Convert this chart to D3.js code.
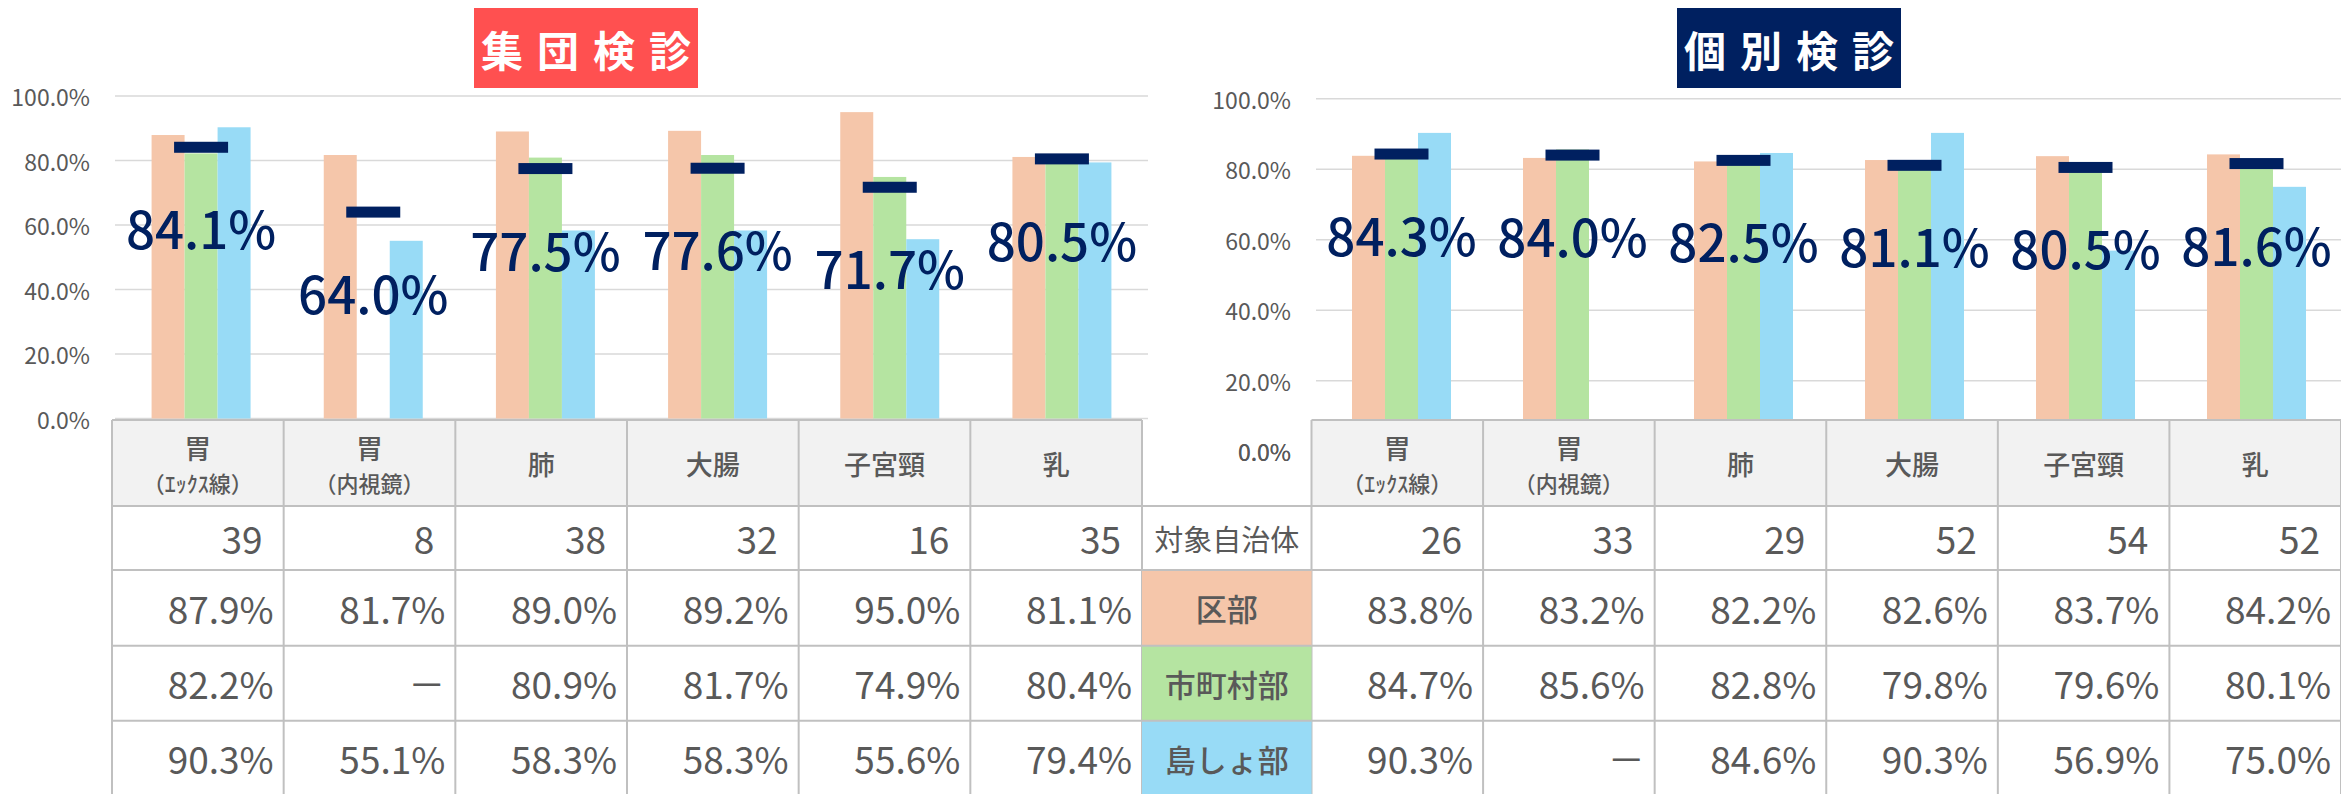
<!DOCTYPE html>
<html lang="ja">
<head>
<meta charset="UTF-8" />
<title>集団検診・個別検診 受診率</title>
<style>
  html, body { margin:0; padding:0; background:#fff; }
  svg { display:block; font-family:"Noto Sans CJK JP", "Noto Sans", sans-serif; }
</style>
</head>
<body>
<svg id="chart" width="2341" height="794"></svg>
<script src="https://d3js.org/d3.v7.min.js"></script>
<script>
// ---- data ----
const catMain = ["胃", "胃", "肺", "大腸", "子宮頸", "乳"];
const catSub  = ["（ｴｯｸｽ線）", "（内視鏡）", "", "", "", ""];
const seriesNames = ["区部", "市町村部", "島しょ部"];
const countLabel = "対象自治体";
const yTicks = [0, 20, 40, 60, 80, 100];

// 集団検診
const groupCounts    = [39, 8, 38, 32, 16, 35];
const groupKubu      = [87.9, 81.7, 89.0, 89.2, 95.0, 81.1];
const groupShichoson = [82.2, null, 80.9, 81.7, 74.9, 80.4];
const groupTosho     = [90.3, 55.1, 58.3, 58.3, 55.6, 79.4];
const groupAvg       = [84.1, 64.0, 77.5, 77.6, 71.7, 80.5];

// 個別検診
const indivCounts    = [26, 33, 29, 52, 54, 52];
const indivKubu      = [83.8, 83.2, 82.2, 82.6, 83.7, 84.2];
const indivShichoson = [84.7, 85.6, 82.8, 79.8, 79.6, 80.1];
const indivTosho     = [90.3, null, 84.6, 90.3, 56.9, 75.0];
const indivAvg       = [84.3, 84.0, 82.5, 81.1, 80.5, 81.6];

// ---- styles ----
const colors = { "区部":"#F5C6AA", "市町村部":"#B5E4A1", "島しょ部":"#98DBF6" };
const navy = "#002060";
const textGrey = "#595959";
const lineGrey = "#C0C0C0";
const barW = 33, markW = 54, markH = 11;

const svg = d3.select("#chart");
const chartLayer = svg.append("g");
const tableLayer = svg.append("g");

function drawPanel(p) {
  const g = chartLayer.append("g");
  const y = d3.scaleLinear().domain([0, 100]).range(p.yRange);
  const x0 = d3.scaleBand().domain(d3.range(catMain.length)).range(p.xRange);
  const groupW = barW * seriesNames.length;
  const x1 = d3.scaleBand().domain(seriesNames)
    .range([(x0.bandwidth() - groupW) / 2, (x0.bandwidth() + groupW) / 2]);

  // gridlines + tick labels
  g.selectAll("line.grid").data(yTicks).join("line")
    .attr("x1", p.xRange[0]).attr("x2", p.xRange[1])
    .attr("y1", d => y(d)).attr("y2", d => y(d))
    .attr("stroke", "#D9D9D9").attr("stroke-width", 1.6);
  g.selectAll("text.tick").data(yTicks).join("text")
    .attr("x", p.tickX).attr("y", d => y(d))
    .attr("text-anchor", "end").attr("dominant-baseline", "central")
    .attr("font-size", 23).attr("fill", textGrey)
    .text(d => d.toFixed(1) + "%");

  // bars
  const rows = [];
  p.series.forEach((vals, si) => vals.forEach((v, i) => {
    if (v != null) rows.push({ s: seriesNames[si], i, v });
  }));
  g.selectAll("rect.bar").data(rows).join("rect")
    .attr("x", d => x0(d.i) + x1(d.s))
    .attr("width", x1.bandwidth())
    .attr("y", d => y(d.v))
    .attr("height", d => y(0) - y(d.v))
    .attr("fill", d => colors[d.s]);

  // average markers + labels
  const cx = i => x0(i) + x0.bandwidth() / 2;
  g.selectAll("rect.mark").data(p.avg).join("rect")
    .attr("x", (d, i) => cx(i) - markW / 2)
    .attr("y", d => y(d) - markH / 2)
    .attr("width", markW).attr("height", markH)
    .attr("fill", navy);
  g.selectAll("text.avg").data(p.avg).join("text")
    .attr("x", (d, i) => cx(i))
    .attr("y", d => y(d) + 102)
    .attr("text-anchor", "middle")
    .attr("font-size", 51).attr("font-weight", 500)
    .attr("fill", navy)
    .text(d => d.toFixed(1) + "%");

  // title box
  const t = svg.append("g");
  t.append("rect").attr("x", p.titleX).attr("y", 8).attr("width", 224).attr("height", 80)
    .attr("fill", p.titleColor);
  t.append("text").attr("x", p.titleX + 112 + 7).attr("y", 48)
    .attr("text-anchor", "middle").attr("dominant-baseline", "central")
    .attr("font-size", 42).attr("font-weight", 700).attr("letter-spacing", 14)
    .attr("fill", "#fff").text(p.title);
}

drawPanel({
  title: "集団検診", titleColor: "#FF5050", titleX: 474,
  yRange: [418.5, 96], xRange: [115, 1148], tickX: 90,
  series: [groupKubu, groupShichoson, groupTosho], avg: groupAvg
});
drawPanel({
  title: "個別検診", titleColor: navy, titleX: 1677,
  yRange: [451.2, 98.7], xRange: [1316, 2342], tickX: 1291,
  series: [indivKubu, indivShichoson, indivTosho], avg: indivAvg
});

// ---- table ----
const rowEdges = [420, 506, 570, 645.7, 720.7, 796];
const midX = [1142, 1311.5];
function drawTable(x0, x1, counts, series) {
  const tx = d3.scaleBand().domain(d3.range(catMain.length)).range([x0, x1]);
  const g = tableLayer.append("g");
  // backgrounds
  g.append("rect").attr("x", x0).attr("y", rowEdges[0]).attr("width", x1 - x0)
    .attr("height", rowEdges[1] - rowEdges[0]).attr("fill", "#F2F2F2");
  g.append("rect").attr("x", x0).attr("y", rowEdges[1]).attr("width", x1 - x0)
    .attr("height", rowEdges[5] - rowEdges[1]).attr("fill", "#fff");
  // header text
  catMain.forEach((m, i) => {
    const c = tx(i) + tx.bandwidth() / 2;
    if (catSub[i]) {
      g.append("text").attr("x", c).attr("y", 447).attr("text-anchor", "middle")
        .attr("dominant-baseline", "central").attr("font-size", 27).attr("font-weight", 500)
        .attr("fill", textGrey).text(m);
      g.append("text").attr("x", c).attr("y", 482).attr("text-anchor", "middle")
        .attr("dominant-baseline", "central").attr("font-size", 22).attr("font-weight", 500)
        .attr("fill", textGrey).text(catSub[i]);
    } else {
      g.append("text").attr("x", c).attr("y", 463).attr("text-anchor", "middle")
        .attr("dominant-baseline", "central").attr("font-size", 27).attr("font-weight", 500)
        .attr("fill", textGrey).text(m);
    }
  });
  // counts
  g.selectAll("text.cnt").data(counts).join("text")
    .attr("x", (d, i) => tx(i) + tx.bandwidth() - 21)
    .attr("y", (rowEdges[1] + rowEdges[2]) / 2)
    .attr("text-anchor", "end").attr("dominant-baseline", "central")
    .attr("font-size", 37).attr("fill", textGrey).text(d => d);
  // percentages
  series.forEach((vals, si) => {
    const yc = (rowEdges[si + 2] + rowEdges[si + 3]) / 2;
    g.selectAll("text.s" + si).data(vals).join("text")
      .attr("x", (d, i) => tx(i) + tx.bandwidth() - 10)
      .attr("y", yc)
      .attr("text-anchor", "end").attr("dominant-baseline", "central")
      .attr("font-size", 37).attr("fill", textGrey)
      .text(d => d == null ? "－" : d.toFixed(1) + "%");
  });
  // grid lines
  rowEdges.forEach(ry => g.append("line").attr("x1", x0).attr("x2", x1)
    .attr("y1", ry).attr("y2", ry).attr("stroke", lineGrey).attr("stroke-width", 2));
  d3.range(catMain.length + 1).forEach(k => {
    const vx = k < catMain.length ? tx(k) : x1;
    g.append("line").attr("x1", vx).attr("x2", vx).attr("y1", rowEdges[0]).attr("y2", rowEdges[5])
      .attr("stroke", lineGrey).attr("stroke-width", 2);
  });
}
drawTable(112, midX[0], groupCounts, [groupKubu, groupShichoson, groupTosho]);
drawTable(midX[1], 2341, indivCounts, [indivKubu, indivShichoson, indivTosho]);

// middle label column
const mid = tableLayer.append("g");
const midC = (midX[0] + midX[1]) / 2;
mid.append("text").attr("x", midC).attr("y", (rowEdges[1] + rowEdges[2]) / 2)
  .attr("text-anchor", "middle").attr("dominant-baseline", "central")
  .attr("font-size", 29).attr("fill", textGrey).text(countLabel);
seriesNames.forEach((s, si) => {
  mid.append("rect").attr("x", midX[0]).attr("y", rowEdges[si + 2])
    .attr("width", midX[1] - midX[0]).attr("height", rowEdges[si + 3] - rowEdges[si + 2])
    .attr("fill", colors[s]);
  mid.append("text").attr("x", midC).attr("y", (rowEdges[si + 2] + rowEdges[si + 3]) / 2)
    .attr("text-anchor", "middle").attr("dominant-baseline", "central")
    .attr("font-size", 31).attr("font-weight", 500).attr("fill", textGrey).text(s);
});
rowEdges.slice(1).forEach(ry => mid.append("line").attr("x1", midX[0]).attr("x2", midX[1])
  .attr("y1", ry).attr("y2", ry).attr("stroke", lineGrey).attr("stroke-width", 2));

// right chart's 0% tick sits in the blank middle header cell
const yRight = d3.scaleLinear().domain([0, 100]).range([451.2, 98.7]);
tableLayer.append("text").attr("x", 1291).attr("y", yRight(0))
  .attr("text-anchor", "end").attr("dominant-baseline", "central")
  .attr("font-size", 23).attr("fill", textGrey).text(yTicks[0].toFixed(1) + "%");
</script>
</body>
</html>
